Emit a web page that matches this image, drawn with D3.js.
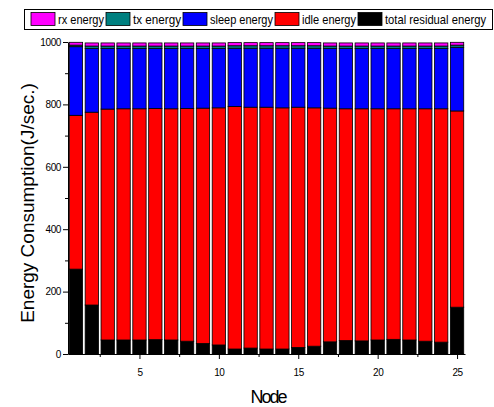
<!DOCTYPE html>
<html>
<head>
<meta charset="utf-8">
<script src="https://cdn.jsdelivr.net/npm/d3@7"></script>
<style>
  body { margin: 0; background: #fff; }
  svg { display: block; font-family: "Liberation Sans", Arial, sans-serif; }
</style>
</head>
<body>
<svg id="chart" width="494" height="407"></svg>
<script>
// ---- data ----
const nodes = d3.range(1, 26);
const residualEnergy = [272, 157, 45, 45, 45, 46, 45, 41, 34, 29, 16, 19, 16, 16, 21, 25, 39, 43, 42, 45, 47, 45, 41, 38, 150];
const idleEnergy     = [493, 618, 740, 741, 741, 741, 741, 746, 754, 760, 777, 772, 775, 773, 770, 764, 749, 743, 744, 741, 739, 741, 745, 748, 629];
const sleepEnergy    = [220, 204, 194, 193, 193, 192, 193, 192, 191, 190, 187, 189, 189, 191, 189, 191, 191, 193, 193, 193, 193, 193, 193, 193, 204];
const txEnergy       = [5, 8, 8, 8, 8, 8, 8, 8, 8, 8, 8, 8, 8, 8, 8, 8, 8, 8, 8, 8, 8, 8, 8, 8, 7];
const rxEnergy       = [9, 10, 10, 10, 10, 10, 10, 10, 10, 10, 10, 10, 10, 10, 10, 10, 10, 10, 10, 10, 10, 10, 10, 10, 9];

const xMajor = [5, 10, 15, 20, 25];
const xMinor = [2.5, 7.5, 12.5, 17.5, 22.5];
const yMajor = [0, 200, 400, 600, 800, 1000];
const yMinor = [100, 300, 500, 700, 900];

// stack order bottom -> top
const series = [
  { key: "total residual energy", values: residualEnergy, color: "#000000" },
  { key: "idle energy",           values: idleEnergy,     color: "#ff0000" },
  { key: "sleep energy",          values: sleepEnergy,    color: "#0000ff" },
  { key: "tx energy",             values: txEnergy,       color: "#008080" },
  { key: "rx energy",             values: rxEnergy,       color: "#ff00ff" }
];

const svg = d3.select("#chart");

const x = d3.scaleLinear().domain([0.5, 25.5]).range([68, 465]);
const y = d3.scaleLinear().domain([0, 1000]).range([354, 42]);

const rows = nodes.map((n, i) => {
  const r = { node: n };
  series.forEach(s => { r[s.key] = s.values[i]; });
  return r;
});
const stacked = d3.stack().keys(series.map(s => s.key))(rows);

const barW = (x(1) - x(0)) * 0.84;

// ---- bars ----
svg.append("g")
  .selectAll("g")
  .data(stacked)
  .join("g")
    .attr("fill", (d, i) => series[i].color)
  .selectAll("rect")
  .data(d => d)
  .join("rect")
    .attr("x", d => x(d.data.node) - barW / 2)
    .attr("width", barW)
    .attr("y", d => y(d[1]))
    .attr("height", d => y(d[0]) - y(d[1]))
    .attr("stroke", "#000")
    .attr("stroke-width", 0.8);

// ---- axes ----
svg.append("g")
  .attr("transform", "translate(0,354)")
  .call(d3.axisBottom(x).tickValues(xMajor).tickSize(5).tickSizeOuter(0).tickPadding(10).tickFormat(d3.format("d")));
svg.append("g")
  .attr("transform", "translate(0,354)")
  .call(d3.axisBottom(x).tickValues(xMinor).tickSize(3).tickSizeOuter(0).tickFormat(""))
  .select(".domain").remove();

svg.append("g")
  .attr("transform", "translate(68,0)")
  .call(d3.axisLeft(y).tickValues(yMajor).tickSize(5).tickSizeOuter(0).tickPadding(2).tickFormat(d3.format("d")));
svg.append("g")
  .attr("transform", "translate(68,0)")
  .call(d3.axisLeft(y).tickValues(yMinor).tickSize(3).tickSizeOuter(0).tickFormat(""))
  .select(".domain").remove();

svg.selectAll(".tick text")
  .attr("font-family", "'Liberation Sans', Arial, sans-serif")
  .attr("font-size", 10)
  .attr("letter-spacing", -0.4)
  .attr("fill", "#000");
svg.selectAll(".domain, .tick line").attr("stroke", "#000");

// ---- axis titles ----
svg.append("text")
  .attr("transform", "translate(27,203) rotate(-90)")
  .attr("text-anchor", "middle")
  .attr("dy", "0.35em")
  .attr("font-size", 19)
  .text("Energy Consumption(J/sec.)");

svg.append("text")
  .attr("x", 268)
  .attr("y", 403)
  .attr("text-anchor", "middle")
  .attr("font-size", 18)
  .attr("letter-spacing", -2)
  .text("Node");

// ---- legend ----
const legend = svg.append("g");
legend.append("rect")
  .attr("x", 24.5).attr("y", 9.5)
  .attr("width", 468).attr("height", 20)
  .attr("fill", "#fff").attr("stroke", "#000");

const swatchX = [31, 106, 183, 275, 358, 488];
series.slice().reverse().forEach((s, i) => {
  legend.append("rect")
    .attr("x", swatchX[i]).attr("y", 12.5)
    .attr("width", 24).attr("height", 13)
    .attr("fill", s.color).attr("stroke", "#000").attr("stroke-width", 0.8);
  legend.append("text")
    .attr("x", swatchX[i] + 27).attr("y", 24)
    .attr("font-size", 13)
    .attr("textLength", swatchX[i + 1] - swatchX[i] - 29)
    .attr("lengthAdjust", "spacingAndGlyphs")
    .text(s.key);
});
</script>
</body>
</html>
